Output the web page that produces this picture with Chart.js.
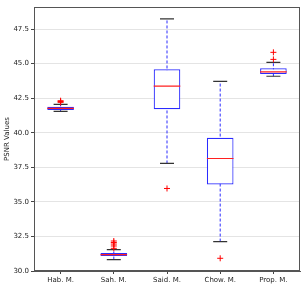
<!DOCTYPE html>
<html>
<head>
<meta charset="utf-8">
<script src="https://cdn.jsdelivr.net/npm/chart.js@4.4.1/dist/chart.umd.min.js"></script>
<style>
    html, body { margin: 0; padding: 0; background: #fff; }
    #wrap { width: 307px; height: 288px; }
</style>
</head>
<body>
<div id="wrap"><canvas id="psnrChart" width="307" height="288"></canvas></div>
<script>
const labels = ['Hab. M.', 'Sah. M.', 'Said. M.', 'Chow. M.', 'Prop. M.'];
const q1 = [41.64, 31.09, 41.70, 36.26, 44.25];
const q3 = [41.88, 31.30, 44.59, 39.64, 44.66];
const medians = [41.76, 31.19, 43.38, 38.14, 44.40];
const whiskerLow = [41.55, 30.83, 37.78, 32.13, 44.09];
const whiskerHigh = [42.06, 31.55, 48.24, 43.72, 45.10];
const outliers = [
    [42.20, 42.26, 42.32],
    [31.64, 31.81, 31.95, 32.06, 32.17],
    [35.97],
    [30.92],
    [45.31, 45.82]
];
const yTicks = [30.0, 32.5, 35.0, 37.5, 40.0, 42.5, 45.0, 47.5];

const frame = {
    id: 'frame',
    afterDraw(chart) {
        const a = chart.chartArea, ctx = chart.ctx;
        ctx.save();
        ctx.strokeStyle = '#555';
        ctx.lineWidth = 1;
        ctx.strokeRect(Math.round(a.left) + 0.5, Math.round(a.top) + 0.5,
            Math.round(a.right - a.left) - 1, Math.round(a.bottom - a.top) - 1);
        ctx.restore();
    }
};

document.addEventListener('DOMContentLoaded', () => {
    const datasets = [];

    // boxes
    datasets.push({
        type: 'bar',
        data: labels.map((l, i) => [q1[i], q3[i]]),
        backgroundColor: '#ffffff',
        borderColor: '#2b2bff',
        borderWidth: 1.2,
        borderSkipped: false,
        barPercentage: 0.5,
        categoryPercentage: 1,
        order: 3
    });

    // whiskers (dashed)
    labels.forEach((l, i) => {
        datasets.push({
            type: 'line',
            data: [{ x: l, y: whiskerLow[i] }, { x: l, y: whiskerHigh[i] }],
            borderColor: '#2b2bff',
            borderWidth: 1,
            borderDash: [3, 2],
            pointRadius: 0,
            order: 5
        });
    });

    // caps
    const caps = [];
    labels.forEach((l, i) => {
        caps.push({ x: l, y: whiskerLow[i] });
        caps.push({ x: l, y: whiskerHigh[i] });
    });
    datasets.push({
        type: 'line',
        data: caps,
        showLine: false,
        pointStyle: 'line',
        pointRadius: 7,
        pointBorderWidth: 1.2,
        pointBorderColor: '#333',
        order: 2
    });

    // medians
    datasets.push({
        type: 'line',
        data: labels.map((l, i) => ({ x: l, y: medians[i] })),
        showLine: false,
        pointStyle: 'line',
        pointRadius: 13.3,
        pointBorderWidth: 1.2,
        pointBorderColor: '#ff2020',
        order: 1
    });

    // outliers
    const fliers = [];
    labels.forEach((l, i) => outliers[i].forEach(v => fliers.push({ x: l, y: v })));
    datasets.push({
        type: 'line',
        data: fliers,
        showLine: false,
        pointStyle: 'cross',
        pointRadius: 3,
        pointBorderWidth: 1,
        pointBorderColor: '#ff0000',
        order: 0
    });

    new Chart(document.getElementById('psnrChart').getContext('2d'), {
        type: 'bar',
        data: { labels: labels, datasets: datasets },
        options: {
            responsive: false,
            animation: false,
            events: [],
            layout: { autoPadding: false, padding: { top: 7, right: 7, left: 0, bottom: 0 } },
            scales: {
                x: {
                    ticks: {
                        color: '#222',
                        font: { family: 'DejaVu Sans', size: 7 },
                        padding: 2,
                        maxRotation: 0
                    },
                    grid: {
                        drawOnChartArea: false,
                        drawTicks: true,
                        tickLength: 3,
                        tickColor: '#444',
                        offset: false
                    },
                    border: { color: '#555' },
                    afterFit(scale) { scale.height = 17; }
                },
                y: {
                    min: 30,
                    max: 49.1,
                    afterBuildTicks(scale) {
                        scale.ticks = yTicks.map(v => ({ value: v }));
                    },
                    ticks: {
                        color: '#222',
                        font: { family: 'DejaVu Sans', size: 7 },
                        padding: 2,
                        callback: v => Number(v).toFixed(1)
                    },
                    grid: {
                        color: '#e4e4e4',
                        drawTicks: true,
                        tickLength: 3,
                        tickColor: '#444'
                    },
                    border: { color: '#555' },
                    title: {
                        display: true,
                        text: 'PSNR Values',
                        color: '#222',
                        font: { family: 'DejaVu Sans', size: 7 },
                        padding: { top: 3, bottom: 0 }
                    },
                    afterFit(scale) { scale.width = 34; }
                }
            },
            plugins: {
                legend: { display: false },
                tooltip: { enabled: false }
            }
        },
        plugins: [frame]
    });
});
</script>
</body>
</html>
